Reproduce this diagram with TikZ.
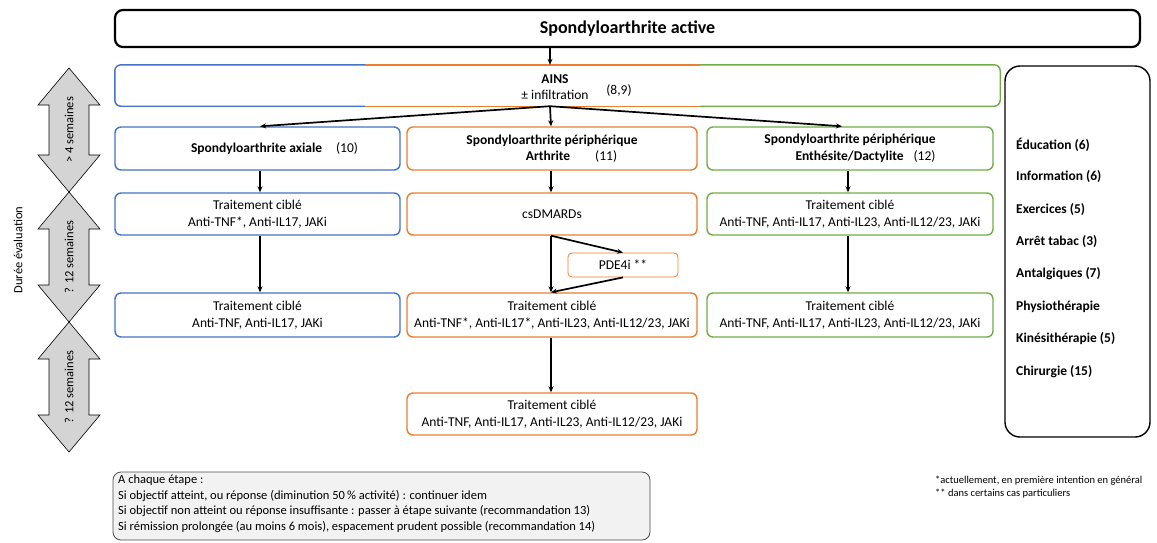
\documentclass[tikz,border=0pt]{standalone}
\usepackage{fontspec}
\setmainfont{Carlito}
\usetikzlibrary{arrows.meta}
\definecolor{cblue}{HTML}{4472C4}
\definecolor{corange}{HTML}{ED7D31}
\definecolor{cgreen}{HTML}{70AD47}
\definecolor{arrgray}{HTML}{D4D4D4}
\definecolor{notegray}{HTML}{F2F2F2}
\newcommand{\fsz}[2]{\fontsize{#1pt}{#2pt}\selectfont}
\begin{document}
\begin{tikzpicture}[x=1pt,y=-1pt,
  box/.style={draw, rounded corners=6pt, line width=1.4pt, align=center, inner sep=0pt, font=\fsz{13.5}{16.5}},
  bluebox/.style={box, draw=cblue, minimum width=285pt},
  orangebox/.style={box, draw=corange, minimum width=290pt},
  greenbox/.style={box, draw=cgreen, minimum width=286pt},
  arr/.style={-{Stealth[length=6pt,width=5pt]}, line width=1.7pt, black},
  darrow/.style={fill=arrgray, draw=black, line width=0.6pt},
  lbl/.style={inner sep=0pt, align=left, anchor=west, font=\fsz{13.5}{16}\bfseries}]
\useasboundingbox (0,0) rectangle (1157,542);

% top box
\node[draw, line width=2.2pt, rounded corners=8pt, minimum width=1025pt, minimum height=37pt, inner sep=0pt,
  font=\fsz{18}{21}\bfseries] (top) at (627.5,28.5) {Spondyloarthrite active};

% AINS box (three coloured parts)
\node[minimum width=885pt, minimum height=41pt, inner sep=0pt] (ains) at (557.5,85.5) {};
\coordinate (cm) at (550,0);
\coordinate (sb) at (365,0);
\coordinate (sg) at (700,0);
\coordinate (xb) at (260,0);
\coordinate (xo) at (551,0);
\coordinate (xg) at (848,0);
\draw[cblue, line width=1.4pt, rounded corners=6pt] (ains.north -| sb) -- (ains.north west) -- (ains.south west) -- (ains.south -| sb);
\draw[corange, line width=1.4pt] (ains.north -| sb) -- (ains.north -| sg) (ains.south -| sb) -- (ains.south -| sg);
\draw[cgreen, line width=1.4pt, rounded corners=6pt] (ains.north -| sg) -- (ains.north east) -- (ains.south east) -- (ains.south -| sg);
\node[inner sep=0pt, align=center, font=\fsz{13.5}{16.5}] (ainst) at (555,87) {\textbf{AINS}\\ ± infiltration};
\node[inner sep=0pt, font=\fsz{13.5}{16}] (ainsr) at (619,90) {(8,9)};

% row 1
\node[bluebox, minimum height=43pt] (b1) at (257.5,148.5) {\hspace*{34pt}\textbf{Spondyloarthrite axiale}\hspace{14pt}(10)};
\node[orangebox, minimum height=43pt] (o1) at (552,148.5) {\textbf{Spondyloarthrite périphérique}\\\hspace*{39pt}\textbf{Arthrite}\hspace{25pt}(11)};
\node[greenbox, minimum height=43pt] (g1) at (850,148.5) {\textbf{Spondyloarthrite périphérique}\\\hspace*{31pt}\textbf{Enthésite/Dactylite}\hspace{10pt}(12)};

% row 2
\node[bluebox, minimum height=42pt] (b2) at (257.5,214) {Traitement ciblé\\Anti-TNF*, Anti-IL17, JAKi};
\node[orangebox, minimum height=42pt] (o2) at (552,214) {csDMARDs};
\node[greenbox, minimum height=42pt] (g2) at (850,214) {Traitement ciblé\\Anti-TNF, Anti-IL17, Anti-IL23, Anti-IL12/23, JAKi};

% PDE4i
\node[draw=corange, line width=0.8pt, rounded corners=4pt, minimum width=110pt, minimum height=24pt, inner sep=0pt,
  font=\fsz{13.5}{16}] (pde) at (623,265) {PDE4i **};

% row 3
\node[bluebox, minimum height=44pt] (b3) at (257.5,315) {Traitement ciblé\\Anti-TNF, Anti-IL17, JAKi};
\node[orangebox, minimum height=44pt] (o3) at (552,315) {Traitement ciblé\\Anti-TNF*, Anti-IL17*, Anti-IL23, Anti-IL12/23, JAKi};
\node[greenbox, minimum height=44pt] (g3) at (850,315) {Traitement ciblé\\Anti-TNF, Anti-IL17, Anti-IL23, Anti-IL12/23, JAKi};

% row 4
\node[orangebox, minimum height=42pt] (o4) at (552,414) {Traitement ciblé\\Anti-TNF, Anti-IL17, Anti-IL23, Anti-IL12/23, JAKi};

% connectors
\draw[arr] (top.south -| cm) -- (ains.north -| cm);
\draw[arr] (ains.south -| cm) -- (b1.north -| xb);
\draw[arr] (ains.south -| cm) -- (o1.north -| xo);
\draw[arr] (ains.south -| cm) -- ([xshift=-6pt]g1.north -| xg);
\draw[arr] (b1.south -| xb) -- (b2.north -| xb);
\draw[arr] (o1.south -| xo) -- (o2.north -| xo);
\draw[arr] (g1.south -| xg) -- (g2.north -| xg);
\draw[arr] (b2.south -| xb) -- (b3.north -| xb);
\draw[arr] (g2.south -| xg) -- (g3.north -| xg);
\draw[arr] (o2.south -| xo) -- (o3.north -| xo);
\draw[arr] (o2.south -| xo) -- (pde.north);
\draw[arr] (pde.south) -- (o3.north -| xo);
\draw[arr] (o3.south -| xo) -- (o4.north -| xo);

% right box
\node[draw, line width=1.4pt, rounded corners=15pt, minimum width=145pt, minimum height=371pt, inner sep=0pt] (rb) at (1077.5,251.5) {};
\node[lbl] (r1) at (1016,145) {Éducation (6)};
\node[lbl] (r2) at (1016,177) {Information (6)};
\node[lbl] (r3) at (1016,210) {Exercices (5)};
\node[lbl] (r4) at (1016,242) {Arrêt tabac (3)};
\node[lbl] (r5) at (1016,274) {Antalgiques (7)};
\node[lbl] (r6) at (1016,307) {Physiothérapie};
\node[lbl] (r7) at (1016,339) {Kinésithérapie (5)};
\node[lbl] (r8) at (1016,372) {Chirurgie (15)};

% left duration arrows
\foreach \ya/\yb/\t in {68/192/{> 4 semaines}, 192/322/{? 12 semaines}, 322/452/{? 12 semaines}}{
  \draw[darrow] (69,\ya) -- (100,\ya+37) -- (89,\ya+37) -- (89,\yb-37) -- (100,\yb-37) -- (69,\yb)
     -- (38,\yb-37) -- (49,\yb-37) -- (49,\ya+37) -- (38,\ya+37) -- cycle;
  \node[rotate=90, inner sep=0pt, font=\fsz{12.5}{14}] at (69,{(\ya+\yb)/2}) {\t};
}
\node[rotate=90, inner sep=0pt, font=\fsz{12.5}{14}] (duree) at (18,250) {Durée évaluation};

% note box
\node[draw=black!70, fill=notegray, line width=0.8pt, rounded corners=8pt, minimum width=537pt, minimum height=68pt, inner sep=0pt] (note) at (381.5,506) {};
\node[inner sep=0pt, anchor=north west, align=left, font=\fsz{12.5}{15.5}] (notet) at (118,475) {A chaque étape :\\
Si objectif atteint, ou réponse (diminution 50\,\% activité) : continuer idem\\
Si objectif non atteint ou réponse insuffisante : passer à étape suivante (recommandation 13)\\
Si rémission prolongée (au moins 6 mois), espacement prudent possible (recommandation 14)};

% footnotes
\node[inner sep=0pt, anchor=west, align=left, font=\fsz{10.5}{13}] (foot) at (935,487) {*actuellement, en première intention en général\\** dans certains cas particuliers};
\end{tikzpicture}
\end{document}
